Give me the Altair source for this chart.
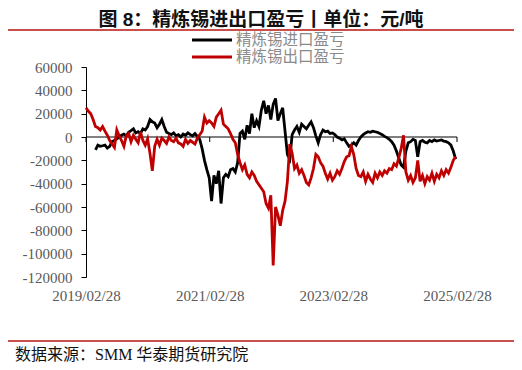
import altair as alt
import pandas as pd

title_text = "图 8：精炼锡进出口盈亏丨单位：元/吨"
source_text = "数据来源：SMM 华泰期货研究院"
series_names = ["精炼锡进口盈亏", "精炼锡出口盈亏"]
series_colors = ["#000000", "#C00000"]
y_ticks = [60000, 40000, 20000, 0, -20000, -40000, -60000, -80000, -100000, -120000]
x_tick_dates = ["2019-02-28", "2021-02-28", "2023-02-28", "2025-02-28"]

# biweekly observation dates
dates = pd.date_range("2019-02-28", periods=157, freq="14D")

# export profit/loss (red), from 2019-02-28
export_pl = [
    25000, 22000, 20000, 15000, 9000, 8000, 6000, 9000, 5000, 1500,
    -3000, -6000, -9000, 6000, 1000, -3000, -8000, 1000, 3000, -4000,
    1500, -2000, -5000, 4500, -3000, -7000, -1500, -14000, -29000, -8000,
    -2000, -7000, -1000, -3000, -5500, 0, -3000, -4000, -1000, -5000,
    -6000, -8000, -2000, -5500, -3000, -4500, -6000, -1000, 2000, 5000,
    17000, 12000, 14000, 12000, 9000, 17000, 20000, 23000, 11000, 9000,
    7000, 3000, -2000, -5000, -15000, -22000, -28000, -24000, -32000, -35000,
    -30000, -33000, -38000, -41000, -44000, -47000, -57000, -61000, -50000, -110000,
    -60000, -67000, -76000, -63000, -55000, -38000, -6000, -14000, -27000, -24000,
    -31000, -28000, -33000, -39000, -41000, -35000, -27000, -15000, -17000, -22000,
    -25000, -31000, -36000, -31000, -37000, -34000, -29000, -32000, -27000, -21000,
    -17000, -16000, -8000, -15000, -27000, -33000, -34000, -30000, -38000, -32000,
    -36000, -39000, -31000, -35000, -30000, -33000, -29000, -31000, -27000, -28000,
    -23000, -25000, -18000, -10000, 1500, -30000, -37000, -33000, -39000, -35000,
    -20000, -38000, -33000, -40000, -34000, -37000, -31000, -38000, -32000, -35000,
    -29000, -33000, -28000, -31000, -26000, -20000, -17000,
]

# import profit/loss (black), starts with the 5th date
import_pl = [
    -11000, -7000, -8000, -7500, -7000, -9500,
    -8000, -4000, -3000, -1500, 0, 1500, 2500, 1000, 4000, 5500,
    7000, 3500, 4500, 3000, 7000, 6000, 9000, 15000, 13000, 12000,
    8000, 11000, 15000, 9000, 4000, 3000, 2000, 3500, 1000, 2000,
    0, 2500, 1500, 3500, 2000, 1000, 3000, 500, -2000, -10000,
    -20000, -28000, -35000, -55000, -33000, -40000, -29000, -57000, -35000, -32000,
    -34000, -28000, -27000, -30000, -22000, 3000, 5000, -2000, 10000, 3000,
    20000, 8000, 14000, 9000, 23000, 31000, 20000, 27000, 15000, 28000,
    33000, 14000, 20000, 25000, 5000, -15000, -19000, 2000, 6000, 9000,
    4000, 11000, 9000, 7000, 10000, 13000, 8000, 1000, -5000, 2000,
    6000, 4500, 5000, 3000, 3500, 2000, 0, -1000, -2500, -1500,
    -5000, -8000, -7000, -5000, -7000, -3000, 0, 2000, 3500, 4500,
    4000, 5000, 4500, 4000, 3000, 2000, 500, -500, -2000, -4000,
    -7000, -12000, -18000, -24000, -26000, -12000, -5000, -4000, -2000, -3000,
    -17000, -4000, -3000, -4500, -5000, -3000, -4000, -2500, -3500, -3000,
    -2500, -3500, -4000, -5000, -7000, -12000, -19000,
]

df_imp = pd.DataFrame({"date": dates[157 - len(import_pl):], "value": import_pl, "series": series_names[0]})
df_exp = pd.DataFrame({"date": dates[:len(export_pl)], "value": export_pl, "series": series_names[1]})
df_ticks = pd.DataFrame({"date": pd.to_datetime(x_tick_dates)})

W, H = 371, 210
serif = "Liberation Serif"
cjk = "Liberation Serif, Noto Sans CJK SC"

x_enc = alt.X(
    "date:T",
    scale=alt.Scale(domain=[alt.DateTime(year=2019, month=2, date=28),
                            alt.DateTime(year=2025, month=2, date=28)]),
    axis=alt.Axis(
        values=[alt.DateTime(year=int(d[:4]), month=int(d[5:7]), date=int(d[8:])) for d in x_tick_dates],
        format="%Y/%m/%d", domain=False, ticks=False, tickSize=0, grid=False,
        labelFlush=False, labelOverlap=False, labelBound=False,
        labelFont=serif, labelFontSize=15, labelColor="#595959", labelPadding=11,
    ),
    title=None,
)
y_enc = alt.Y(
    "value:Q",
    scale=alt.Scale(domain=[-120000, 60000], nice=False, zero=False),
    axis=alt.Axis(
        values=y_ticks, labelExpr="datum.value + ''", grid=False,
        domainColor="black", domainWidth=1, tickColor="black", tickSize=5,
        labelPadding=9, labelFont=serif, labelFontSize=15, labelColor="#595959",
    ),
    title=None,
)
color_enc = alt.Color(
    "series:N",
    scale=alt.Scale(domain=series_names, range=series_colors),
    legend=None,
)

zero_line = alt.Chart(pd.DataFrame({"value": [0]})).mark_rule(color="black", strokeWidth=1).encode(
    y=y_enc, x=alt.value(0), x2=alt.value(W)
)
zero_ticks = alt.Chart(df_ticks).mark_rule(color="black", strokeWidth=1).encode(
    x=x_enc, y=alt.value(70), y2=alt.value(75)
)
imp_line = alt.Chart(df_imp).mark_line(strokeWidth=2.8).encode(x=x_enc, y=y_enc, color=color_enc)
exp_line = alt.Chart(df_exp).mark_line(strokeWidth=2.8).encode(x=x_enc, y=y_enc, color=color_enc)

# legend (drawn from the series names and colours)
leg_imp = pd.DataFrame({"t": [series_names[0]]})
leg_exp = pd.DataFrame({"t": [series_names[1]]})
leg_sym_imp = alt.Chart(leg_imp).mark_rule(color=series_colors[0], strokeWidth=3).encode(
    x=alt.value(106), x2=alt.value(146), y=alt.value(-27))
leg_sym_exp = alt.Chart(leg_exp).mark_rule(color=series_colors[1], strokeWidth=3).encode(
    x=alt.value(106), x2=alt.value(146), y=alt.value(-10))
leg_txt_imp = alt.Chart(leg_imp).mark_text(
    font=cjk, fontSize=15.5, align="left", baseline="middle", color="#8a8a8a"
).encode(text="t:N", x=alt.value(150), y=alt.value(-27))
leg_txt_exp = alt.Chart(leg_exp).mark_text(
    font=cjk, fontSize=15.5, align="left", baseline="middle", color="#8a8a8a"
).encode(text="t:N", x=alt.value(150), y=alt.value(-10))

one = pd.DataFrame({"t": [title_text]})
title_mark = alt.Chart(one).mark_text(
    font="Liberation Sans, Noto Sans CJK SC", fontWeight="bold", fontSize=19,
    align="center", baseline="middle", color="#111111"
).encode(text="t:N", x=alt.value(175), y=alt.value(-47))
top_rule = alt.Chart(one).mark_rule(color="#C9504C", strokeWidth=2).encode(
    x=alt.value(-81), x2=alt.value(428), y=alt.value(-37)
)
bottom_rule = alt.Chart(one).mark_rule(color="#C9504C", strokeWidth=2).encode(
    x=alt.value(-81), x2=alt.value(428), y=alt.value(274)
)
src = pd.DataFrame({"t": [source_text]})
source_mark = alt.Chart(src).mark_text(
    font=cjk, fontSize=16, align="left", baseline="middle", color="#111111"
).encode(text="t:N", x=alt.value(-71), y=alt.value(288))

chart = alt.layer(
    zero_line, zero_ticks, imp_line, exp_line,
    leg_sym_imp, leg_sym_exp, leg_txt_imp, leg_txt_exp,
    title_mark, top_rule, bottom_rule, source_mark
).properties(
    width=W, height=H,
    padding={"left": 78, "top": 59, "right": 57, "bottom": 88},
    autosize=alt.AutoSizeParams(type="none"),
    background="white",
).configure_view(stroke=None)

chart.save("out.html", embed_options={"renderer": "svg", "actions": False})
